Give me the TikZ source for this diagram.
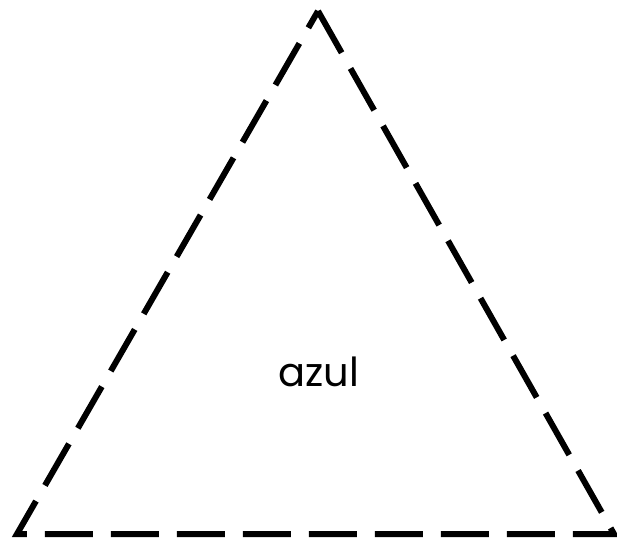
\documentclass[tikz,border=0pt]{standalone}
\usepackage{fontspec}
\setmainfont{Poppins}

\tikzset{
  outline/.style={draw=black, line width=6pt, dash pattern=on 48pt off 18pt, line join=miter},
  labeltext/.style={font=\fontsize{40}{48}\selectfont, inner sep=0pt}
}

\begin{document}
\begin{tikzpicture}[x=1pt,y=-1pt]
  \useasboundingbox (0,0) rectangle (617,539);
  % corners of the triangle
  \coordinate (apex) at (318,11);
  \coordinate (right) at (614,534);
  \coordinate (left) at (17,534);
  \draw[outline] (apex) -- (right) -- (left) -- cycle;
  \node[labeltext] (colour) at (319,372) {azul};
\end{tikzpicture}
\end{document}
